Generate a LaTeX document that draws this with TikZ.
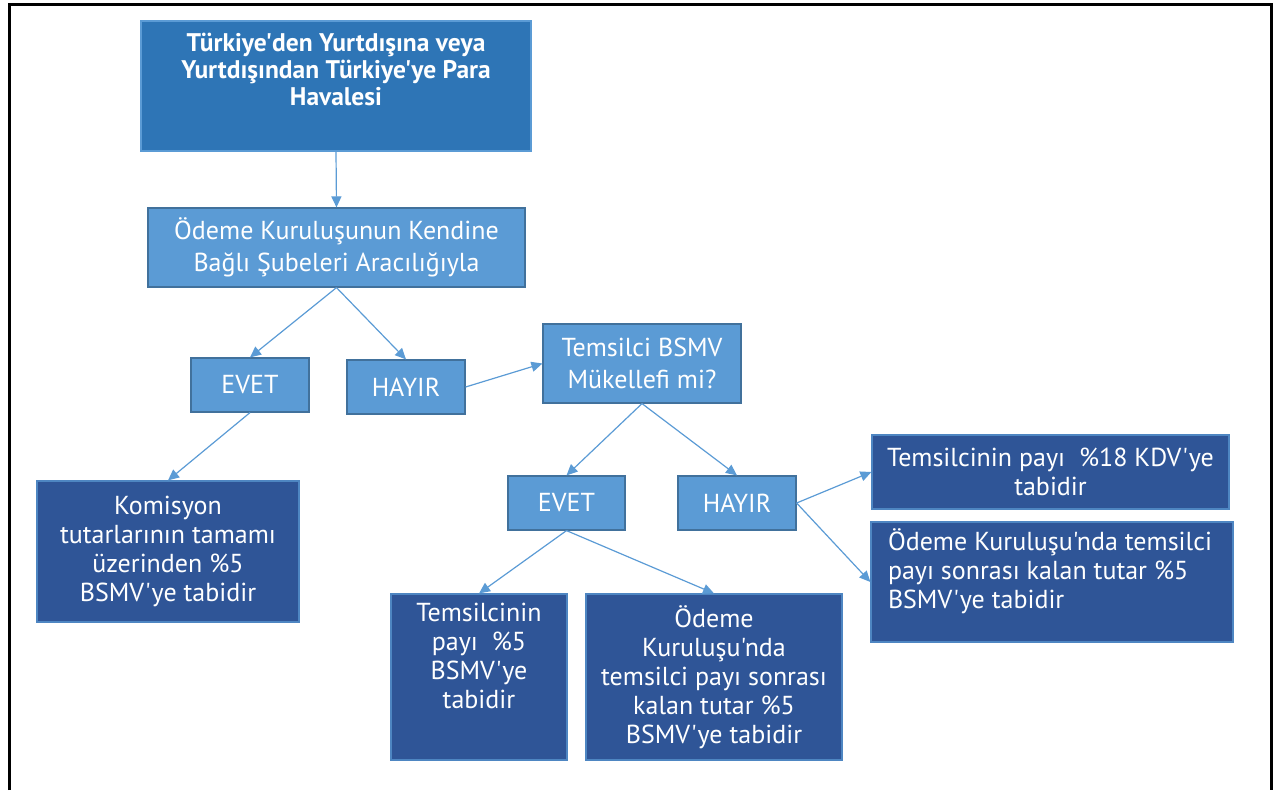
\documentclass[tikz,border=0pt]{standalone}
\usepackage{fontspec}
\setmainfont{PT Sans}[Ligatures=TeXOff]
\usetikzlibrary{arrows.meta}

\definecolor{topblue}{HTML}{2E75B6}
\definecolor{midblue}{HTML}{5B9BD5}
\definecolor{edgeblue}{HTML}{41719C}
\definecolor{darkblue}{HTML}{2F5597}

% Text that hangs from the top of a box: height, width, padding, content
\newcommand{\hangtext}[4]{\parbox[c][#1][t]{#2}{\vspace*{#3}#4}}

\tikzset{
  lightbox/.style={draw=edgeblue, fill=midblue, text=white, line width=1.2pt,
    align=center, inner sep=0pt, font=\fontsize{26}{32}\selectfont},
  darkbox/.style={draw=midblue!70!darkblue, fill=darkblue, text=white, line width=1.2pt,
    align=center, inner sep=0pt, font=\fontsize{26}{29}\selectfont},
  link/.style={draw=midblue, line width=1.2pt, -{Triangle[length=11pt,width=10pt]}},
}

\begin{document}
\begin{tikzpicture}[x=1pt, y=-1pt]
  % Page size and frame
  \useasboundingbox (0,0) rectangle (1280,790);
  \draw[line width=3pt] (9,790) -- (9,4) -- (1271,4) -- (1271,790);

  % Top box
  \node[lightbox, draw=midblue, fill=topblue, minimum width=390pt, minimum height=130pt,
    font=\bfseries\fontsize{25.5}{27}\selectfont] (havale) at (336,86)
    {\hangtext{130pt}{390pt}{12pt}{\centering T\"urkiye'den Yurtd\i\c{s}\i na veya\\
      Yurtd\i\c{s}\i ndan T\"urkiye'ye Para\\Havalesi}};

  % First question and its answers
  \node[lightbox, minimum width=377pt, minimum height=79pt] (sube) at (336.5,247.5)
    {\"Odeme Kurulu\c{s}unun Kendine\\Ba\u{g}l\i\ \c{S}ubeleri Arac\i l\i\u{g}\i yla};
  \node[lightbox, minimum width=118pt, minimum height=54pt] (evetA) at (250,385) {EVET};
  \node[lightbox, minimum width=118pt, minimum height=54pt] (hayirA) at (406,387) {HAYIR};
  \node[darkbox, minimum width=262pt, minimum height=141pt] (komisyon) at (168,551.5)
    {Komisyon\\tutarlar\i n\i n tamam\i\\\"uzerinden \%5\\BSMV'ye tabidir};

  % Second question and its answers
  \node[lightbox, minimum width=198pt, minimum height=79pt] (temsilci) at (642,363.5)
    {Temsilci BSMV\\M\"ukellefi mi?};
  \node[lightbox, minimum width=117pt, minimum height=54pt] (evetB) at (566.5,503) {EVET};
  \node[lightbox, minimum width=118pt, minimum height=54pt] (hayirB) at (737,503) {HAYIR};

  % Results
  \node[darkbox, minimum width=176pt, minimum height=166pt] (payBSMV) at (479,677)
    {\hangtext{166pt}{176pt}{9pt}{\centering Temsilcinin\\pay\i\ \ \%5\\BSMV'ye\\tabidir}};
  \node[darkbox, minimum width=256pt, minimum height=166pt] (kalanA) at (714,677)
    {\"Odeme\\Kurulu\c{s}u'nda\\temsilci pay\i\ sonras\i\\kalan tutar \%5\\BSMV'ye tabidir};
  \node[darkbox, minimum width=357pt, minimum height=74pt] (payKDV) at (1050.5,472)
    {Temsilcinin pay\i\ \ \%18 KDV'ye\\tabidir};
  \node[darkbox, minimum width=362pt, minimum height=120pt] (kalanB) at (1052,582)
    {\hangtext{120pt}{362pt}{7pt}{\raggedright\leftskip=17pt
      \"Odeme Kurulu\c{s}u'nda temsilci\\pay\i\ sonras\i\ kalan tutar \%5\\BSMV'ye tabidir}};

  % Connectors
  \draw[link] (havale.south) -- (sube.north);
  \draw[link] (sube.south) -- (evetA.north);
  \draw[link] (sube.south) -- (hayirA.north);
  \draw[link] (evetA.south) -- (komisyon.north);
  \draw[link] (hayirA.east) -- (temsilci.west);
  \draw[link] (temsilci.south) -- (evetB.north);
  \draw[link] (temsilci.south) -- (hayirB.north);
  \draw[link] (evetB.south) -- (payBSMV.north);
  \draw[link] (evetB.south) -- (kalanA.north);
  \draw[link] (hayirB.east) -- (payKDV.west);
  \draw[link] (hayirB.east) -- (kalanB.west);
\end{tikzpicture}
\end{document}
